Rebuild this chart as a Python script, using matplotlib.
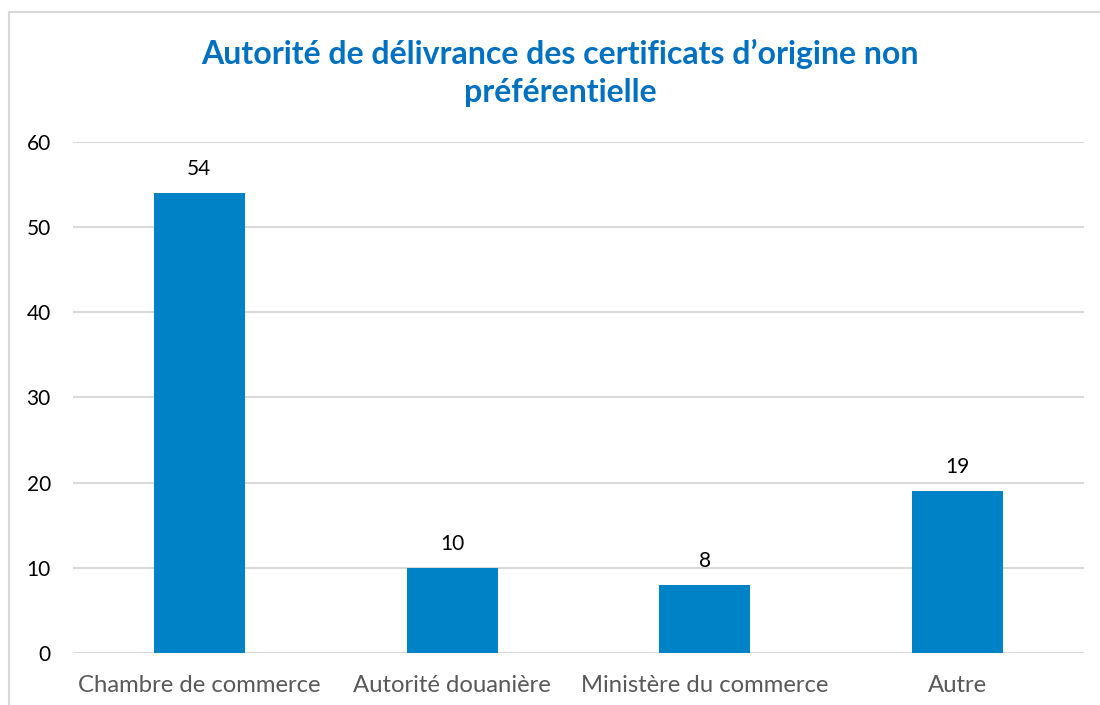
import matplotlib
matplotlib.use("Agg")
import matplotlib.pyplot as plt
from matplotlib.lines import Line2D

# Données du graphique
categories = ["Chambre de commerce", "Autorité douanière", "Ministère du commerce", "Autre"]
values = [54, 10, 8, 19]
y_ticks = [0, 10, 20, 30, 40, 50, 60]

plt.rcParams['font.family'] = ['Lato', 'DejaVu Sans']

fig = plt.figure(figsize=(11, 7.05), dpi=100)
ax = fig.add_axes([0.0664, 0.0738, 0.9191, 0.7248])

x = range(len(categories))
ax.bar(x, values, width=0.36, color="#0082C6", zorder=3)

# Étiquettes de valeur
for xi, v in zip(x, values):
    ax.annotate(str(v), (xi, v), xytext=(0, 10), textcoords="offset points",
                ha="center", va="bottom", fontsize=15, color="black")

ax.set_xlim(-0.5, len(categories) - 0.5)
ax.set_ylim(0, 60)
ax.set_yticks(y_ticks)
ax.set_xticks(list(x))
ax.set_xticklabels(categories, fontsize=17.2, color="#595959")
ax.tick_params(axis="y", labelsize=15, labelcolor="black", length=0, pad=16)
ax.tick_params(axis="x", length=0, pad=16)
ax.grid(axis="y", color="#D9D9D9", linewidth=1.5, zorder=0)
for s in ax.spines.values():
    s.set_visible(False)

fig.text(0.509, 0.897, "Autorité de délivrance des certificats d\u2019origine non\npréférentielle",
         ha="center", va="center", fontsize=23, fontweight="bold", color="#0070C0",
         linespacing=1.38)

# Cadre du graphique
fig.add_artist(Line2D([9 / 1100, 9 / 1100], [0, 1 - 12 / 705], transform=fig.transFigure,
                      color="#D9D9D9", linewidth=1.5))
fig.add_artist(Line2D([9 / 1100, 1], [1 - 12 / 705, 1 - 12 / 705], transform=fig.transFigure,
                      color="#D9D9D9", linewidth=1.5))

fig.savefig("out.png", dpi=100)
